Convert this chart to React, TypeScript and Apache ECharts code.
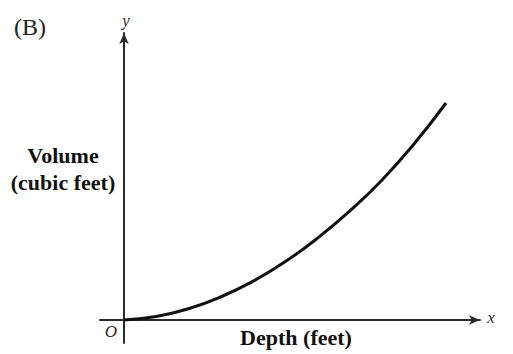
import React, { useEffect, useRef } from "react";
import * as echarts from "echarts";

// Depth (arbitrary units) and Volume (arbitrary units)
const depth = [0, 1, 2, 3, 4, 5, 6, 7, 8, 9, 10];
const volume = [0, 0.16, 0.52, 1.06, 1.78, 2.68, 3.76, 5.01, 6.43, 8.1, 10];

const panelLabel = "(B)";
const yAxisLetter = "y";
const xAxisLetter = "x";
const originLabel = "O";
const yTitleLines = ["Volume", "(cubic feet)"];
const xTitle = "Depth (feet)";

export default function App() {
  const ref = useRef<HTMLDivElement>(null);
  useEffect(() => {
    document.body.style.margin = "0";
    if (!ref.current) return;
    const chart = echarts.init(ref.current, undefined, { renderer: "svg" });
    const serif = "Liberation Serif";
    chart.setOption({
      animation: false,
      backgroundColor: "#ffffff",
      grid: { left: 100, right: 33, top: 33, bottom: 11, containLabel: false },
      xAxis: {
        type: "value",
        min: -0.745,
        max: 11.056,
        axisLine: {
          onZero: true,
          symbol: ["none", "arrow"],
          symbolSize: [7, 11],
          lineStyle: { color: "#2a2a2a", width: 2 },
        },
        axisTick: { show: false },
        axisLabel: { show: false },
        splitLine: { show: false },
      },
      yAxis: {
        type: "value",
        min: -1.06,
        max: 13.226,
        axisLine: {
          onZero: true,
          symbol: ["none", "arrow"],
          symbolSize: [7, 11],
          lineStyle: { color: "#2a2a2a", width: 2 },
        },
        axisTick: { show: false },
        axisLabel: { show: false },
        splitLine: { show: false },
      },
      series: [
        {
          type: "line",
          data: depth.map((d, i) => [d, volume[i]]),
          smooth: true,
          showSymbol: false,
          lineStyle: { color: "#111111", width: 3 },
        },
      ],
      graphic: [
        {
          type: "text",
          left: 14,
          top: 15,
          style: { text: panelLabel, font: `24px ${serif}`, fill: "#222" },
        },
        {
          type: "text",
          x: 126,
          y: 20,
          style: {
            text: yAxisLetter,
            font: `italic 17px ${serif}`,
            fill: "#333",
            align: "center",
            verticalAlign: "middle",
          },
        },
        {
          type: "text",
          x: 491,
          y: 317,
          style: {
            text: xAxisLetter,
            font: `italic 17px ${serif}`,
            fill: "#333",
            align: "center",
            verticalAlign: "middle",
          },
        },
        {
          type: "text",
          x: 111,
          y: 331,
          style: {
            text: originLabel,
            font: `italic 17px ${serif}`,
            fill: "#222",
            align: "center",
            verticalAlign: "middle",
          },
        },
        {
          type: "text",
          x: 63,
          y: 155,
          style: {
            text: yTitleLines[0],
            font: `bold 22px ${serif}`,
            fill: "#111",
            align: "center",
            verticalAlign: "middle",
          },
        },
        {
          type: "text",
          x: 63,
          y: 182,
          style: {
            text: yTitleLines[1],
            font: `bold 22px ${serif}`,
            fill: "#111",
            align: "center",
            verticalAlign: "middle",
          },
        },
        {
          type: "text",
          x: 296,
          y: 337,
          style: {
            text: xTitle,
            font: `bold 22px ${serif}`,
            fill: "#111",
            align: "center",
            verticalAlign: "middle",
          },
        },
      ],
    });
    return () => chart.dispose();
  }, []);
  return (
    <div
      ref={ref}
      style={{ position: "absolute", left: 0, top: 0, width: 513, height: 354 }}
    />
  );
}
